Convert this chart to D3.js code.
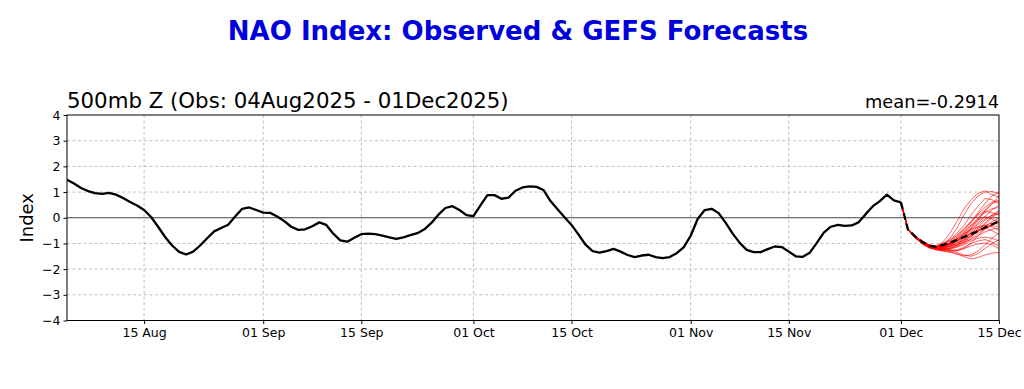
<!DOCTYPE html>
<html>
<head>
<meta charset="utf-8">
<script src="https://cdn.jsdelivr.net/npm/d3@7"></script>
<style>
  html, body { margin: 0; padding: 0; background: #fff; }
  svg { display: block; font-family: "DejaVu Sans", sans-serif; }
</style>
</head>
<body>
<svg id="chart" width="1024" height="389"></svg>
<script>
// ---------------- DATA ----------------
const obsStart = "2025-08-04";   // first observed day (daily values)
const observed = [
  1.48, 1.33, 1.16, 1.04, 0.96, 0.93, 0.97, 0.90, 0.77, 0.61,
  0.48, 0.30, 0.03, -0.35, -0.75, -1.08, -1.33, -1.43, -1.32, -1.08,
  -0.80, -0.53, -0.40, -0.27, 0.05, 0.35, 0.40, 0.30, 0.20, 0.19,
  0.05, -0.13, -0.35, -0.47, -0.45, -0.33, -0.18, -0.28, -0.62, -0.88,
  -0.93, -0.78, -0.64, -0.62, -0.64, -0.70, -0.76, -0.82, -0.76, -0.68,
  -0.60, -0.45, -0.20, 0.12, 0.38, 0.45, 0.30, 0.10, 0.06, 0.48,
  0.88, 0.88, 0.74, 0.78, 1.05, 1.18, 1.22, 1.20, 1.08, 0.65,
  0.33, 0.02, -0.28, -0.66, -1.05, -1.30, -1.36, -1.30, -1.21, -1.32,
  -1.45, -1.53, -1.47, -1.44, -1.53, -1.57, -1.53, -1.38, -1.15, -0.70,
  -0.05, 0.30, 0.35, 0.18, -0.20, -0.62, -0.98, -1.25, -1.34, -1.34,
  -1.22, -1.12, -1.14, -1.32, -1.50, -1.52, -1.36, -0.98, -0.58, -0.35,
  -0.28, -0.32, -0.30, -0.17, 0.15, 0.45, 0.65, 0.90, 0.68, 0.60
];
const fcstStart = "2025-12-01";  // first forecast day (daily values)
const ensMean = [0.60, -0.45, -0.72, -0.92, -1.08, -1.13, -1.06, -0.97, -0.86, -0.75, -0.64, -0.52, -0.38, -0.26, -0.14];
const members = [
  [0.60,-0.42,-0.70,-0.90,-1.05,-1.10,-0.95,-0.60,-0.15,0.35,0.70,0.95,1.05,0.90,0.80],
  [0.60,-0.45,-0.73,-0.95,-1.10,-1.15,-1.05,-0.80,-0.40,0.10,0.55,0.85,1.00,1.02,0.95],
  [0.60,-0.44,-0.72,-0.93,-1.08,-1.12,-1.00,-0.85,-0.60,-0.30,0.10,0.45,0.75,0.70,0.55],
  [0.60,-0.46,-0.75,-0.97,-1.12,-1.18,-1.15,-1.05,-0.90,-0.70,-0.40,-0.05,0.30,0.55,0.65],
  [0.60,-0.43,-0.71,-0.92,-1.06,-1.14,-1.10,-1.00,-0.85,-0.60,-0.30,0.00,0.20,0.35,0.40],
  [0.60,-0.47,-0.76,-1.00,-1.15,-1.22,-1.25,-1.20,-1.10,-0.95,-0.75,-0.50,-0.25,0.00,0.20],
  [0.60,-0.45,-0.74,-0.96,-1.12,-1.20,-1.18,-1.10,-0.98,-0.80,-0.55,-0.35,-0.10,0.10,0.15],
  [0.60,-0.44,-0.73,-0.94,-1.09,-1.16,-1.12,-1.00,-0.80,-0.55,-0.30,-0.10,0.05,-0.05,-0.20],
  [0.60,-0.46,-0.75,-0.98,-1.13,-1.19,-1.22,-1.25,-1.28,-1.20,-1.00,-0.70,-0.45,-0.30,-0.10],
  [0.60,-0.45,-0.74,-0.95,-1.10,-1.17,-1.20,-1.25,-1.35,-1.45,-1.50,-1.40,-1.20,-1.00,-0.85],
  [0.60,-0.47,-0.77,-1.00,-1.16,-1.23,-1.28,-1.32,-1.40,-1.52,-1.60,-1.55,-1.45,-1.38,-1.35],
  [0.60,-0.44,-0.72,-0.93,-1.07,-1.13,-1.08,-0.95,-0.75,-0.50,-0.20,0.15,0.40,0.60,0.70],
  [0.60,-0.46,-0.75,-0.97,-1.12,-1.18,-1.16,-1.12,-1.05,-0.95,-0.85,-0.70,-0.55,-0.45,-0.40],
  [0.60,-0.45,-0.73,-0.95,-1.11,-1.17,-1.14,-1.05,-0.92,-0.78,-0.62,-0.50,-0.40,-0.25,-0.05],
  [0.60,-0.43,-0.71,-0.91,-1.05,-1.10,-1.02,-0.88,-0.68,-0.42,-0.15,0.10,0.25,0.20,0.10],
  [0.60,-0.46,-0.76,-0.99,-1.14,-1.21,-1.24,-1.22,-1.15,-1.05,-0.90,-0.80,-0.75,-0.80,-0.90],
  [0.60,-0.45,-0.74,-0.96,-1.10,-1.16,-1.12,-1.02,-0.88,-0.70,-0.45,-0.20,0.05,0.30,0.50],
  [0.60,-0.47,-0.77,-1.01,-1.17,-1.25,-1.30,-1.35,-1.42,-1.48,-1.45,-1.30,-1.05,-0.80,-0.60],
  [0.60,-0.44,-0.72,-0.94,-1.08,-1.14,-1.08,-0.98,-0.85,-0.65,-0.40,-0.10,0.25,0.55,0.85],
  [0.60,-0.45,-0.74,-0.96,-1.11,-1.18,-1.20,-1.15,-1.05,-0.85,-0.60,-0.40,-0.30,-0.35,-0.50],
  [0.60,-0.46,-0.75,-0.97,-1.13,-1.20,-1.18,-1.10,-1.00,-0.88,-0.72,-0.55,-0.35,-0.15,0.00],
  [0.60,-0.44,-0.73,-0.94,-1.09,-1.15,-1.10,-0.98,-0.82,-0.62,-0.45,-0.35,-0.30,-0.20,-0.25],
  [0.60,-0.45,-0.74,-0.96,-1.12,-1.19,-1.22,-1.18,-1.08,-0.92,-0.70,-0.45,-0.20,0.05,0.25],
  [0.60,-0.46,-0.76,-0.99,-1.15,-1.22,-1.26,-1.28,-1.25,-1.15,-1.00,-0.90,-0.85,-0.95,-1.10],
  [0.60,-0.43,-0.72,-0.93,-1.07,-1.12,-1.05,-0.90,-0.70,-0.45,-0.15,0.20,0.55,0.85,1.00],
  [0.60,-0.45,-0.73,-0.95,-1.10,-1.16,-1.14,-1.08,-0.98,-0.85,-0.68,-0.52,-0.38,-0.30,-0.35],
  [0.60,-0.47,-0.77,-1.00,-1.16,-1.24,-1.28,-1.30,-1.28,-1.20,-1.10,-1.02,-0.98,-1.05,-1.20],
  [0.60,-0.44,-0.72,-0.94,-1.09,-1.15,-1.12,-1.02,-0.90,-0.72,-0.50,-0.25,-0.05,0.10,0.30],
  [0.60,-0.46,-0.75,-0.97,-1.13,-1.20,-1.22,-1.20,-1.12,-1.00,-0.82,-0.62,-0.42,-0.25,-0.15],
  [0.60,-0.45,-0.74,-0.96,-1.11,-1.17,-1.13,-1.03,-0.90,-0.75,-0.60,-0.48,-0.40,-0.50,-0.65]
];
const xDomain = ["2025-08-04", "2025-12-15"];
const xTickDates = ["2025-08-15","2025-09-01","2025-09-15","2025-10-01","2025-10-15","2025-11-01","2025-11-15","2025-12-01","2025-12-15"];
const yTicks = [-4, -3, -2, -1, 0, 1, 2, 3, 4];
const titleText = "NAO Index: Observed & GEFS Forecasts";
const subTitleLeft = "500mb Z (Obs: 04Aug2025 - 01Dec2025)";
const subTitleRight = "mean=-0.2914";
const yLabel = "Index";

// ---------------- DRAW ----------------
const parse = d3.utcParse("%Y-%m-%d");
const dayMs = 86400000;
const svg = d3.select("#chart");
const L = 67, R = 999, T = 115, B = 320.5;

const x = d3.scaleUtc().domain(xDomain.map(parse)).range([L, R]);
const y = d3.scaleLinear().domain([-4, 4]).range([B, T]);

const obsPts = observed.map((v, i) => ({ t: new Date(parse(obsStart).getTime() + i * dayMs), v }));
const fStart = parse(fcstStart).getTime();
const toPts = arr => arr.map((v, i) => ({ t: new Date(fStart + i * dayMs), v }));

// grid
const grid = svg.append("g");
grid.selectAll("line.h").data(yTicks.filter(d => d !== 0 && d !== 4 && d !== -4)).join("line")
  .attr("x1", L).attr("x2", R).attr("y1", d => y(d)).attr("y2", d => y(d))
  .attr("stroke", "#b0b0b0").attr("stroke-width", 0.8).attr("stroke-dasharray", "3,2.5");
grid.selectAll("line.v").data(xTickDates.map(parse).filter(d => x(d) < R - 1)).join("line")
  .attr("x1", d => x(d)).attr("x2", d => x(d)).attr("y1", T).attr("y2", B)
  .attr("stroke", "#b0b0b0").attr("stroke-width", 0.8).attr("stroke-dasharray", "3,2.5");

// zero line
svg.append("line").attr("x1", L).attr("x2", R).attr("y1", y(0)).attr("y2", y(0))
  .attr("stroke", "#444").attr("stroke-width", 1);

// clip
svg.append("clipPath").attr("id", "clip").append("rect")
  .attr("x", L).attr("y", T).attr("width", R - L).attr("height", B - T);

const line = d3.line().x(d => x(d.t)).y(d => y(d.v)).curve(d3.curveLinear);
const plot = svg.append("g").attr("clip-path", "url(#clip)");

plot.selectAll("path.mem").data(members).join("path")
  .attr("d", m => line(toPts(m)))
  .attr("fill", "none").attr("stroke", "#ff0000").attr("stroke-opacity", 0.6)
  .attr("stroke-width", 1);

plot.append("path").attr("d", line(obsPts))
  .attr("fill", "none").attr("stroke", "#000").attr("stroke-width", 2.3)
  .attr("stroke-linejoin", "round");

plot.append("path").attr("d", line(toPts(ensMean)))
  .attr("fill", "none").attr("stroke", "#000").attr("stroke-width", 2.3)
  .attr("stroke-dasharray", "7,4");

// frame
svg.append("rect").attr("x", L).attr("y", T).attr("width", R - L).attr("height", B - T)
  .attr("fill", "none").attr("stroke", "#000").attr("stroke-width", 1);

// axes
const yAxis = d3.axisLeft(y).tickValues(yTicks).tickSize(3.5).tickPadding(3)
  .tickFormat(d => d < 0 ? "\u2212" + Math.abs(d) : String(d));
const gy = svg.append("g").attr("transform", `translate(${L},0)`).call(yAxis);
gy.select(".domain").remove();
gy.selectAll("text").attr("font-size", 12.5).attr("font-family", "DejaVu Sans").attr("fill", "#000");

const xAxis = d3.axisBottom(x).tickValues(xTickDates.map(parse)).tickSize(3.5).tickPadding(4)
  .tickFormat(d3.utcFormat("%d %b"));
const gx = svg.append("g").attr("transform", `translate(0,${B})`).call(xAxis);
gx.select(".domain").remove();
gx.selectAll("text").attr("font-size", 12.5).attr("font-family", "DejaVu Sans").attr("fill", "#000");

// titles
svg.append("text").attr("x", 518).attr("y", 40).attr("text-anchor", "middle")
  .attr("font-size", 26).attr("font-weight", "bold").attr("fill", "#0000dd").text(titleText);
svg.append("text").attr("x", L).attr("y", 108).attr("font-size", 21.3).attr("fill", "#000").text(subTitleLeft);
svg.append("text").attr("x", R).attr("y", 108).attr("text-anchor", "end").attr("font-size", 17.8).attr("fill", "#000").text(subTitleRight);
svg.append("text").attr("transform", `translate(33,${(T + B) / 2}) rotate(-90)`).attr("text-anchor", "middle")
  .attr("font-size", 18).attr("fill", "#000").text(yLabel);
</script>
</body>
</html>
